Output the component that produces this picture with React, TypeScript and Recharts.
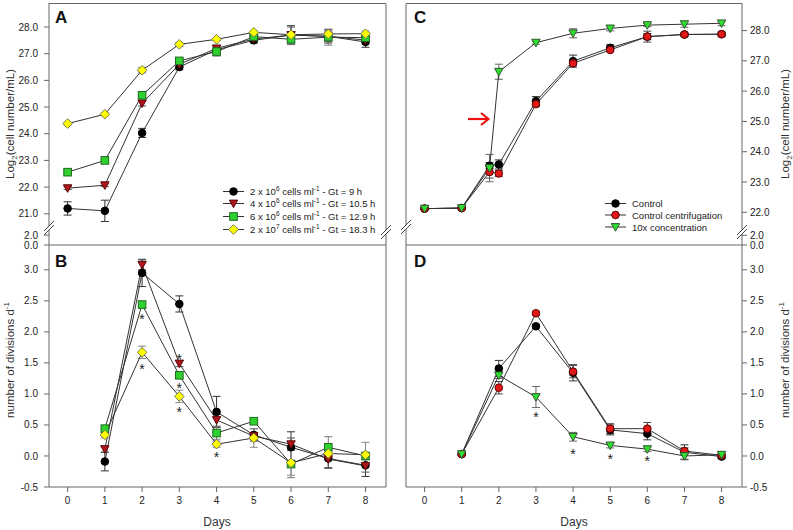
import React from "react";
import { ComposedChart, Line, Scatter, XAxis, YAxis, ErrorBar } from "recharts";

const FONT = "'Liberation Sans', Arial, sans-serif";

// ---- panel A / B : inoculum density ----
const DAYS_AB = [0, 1, 2, 3, 4, 5, 6, 7, 8];
const A_2E6 = [21.2, 21.11, 24.03, 26.5, 27.15, 27.5, 27.7, 27.65, 27.44];
const A_2E6_ERR = [0.25, 0.4, 0.17, 0.1, 0.15, 0.1, 0.35, 0.25, 0.2];
const A_4E6 = [21.96, 22.07, 25.14, 26.6, 27.2, 27.55, 27.7, 27.65, 27.51];
const A_4E6_ERR = [0.05, 0.05, 0.1, 0.1, 0.1, 0.05, 0.3, 0.2, 0.15];
const A_6E6 = [22.56, 23.0, 25.44, 26.73, 27.08, 27.64, 27.54, 27.62, 27.6];
const A_6E6_ERR = [0.05, 0.05, 0.1, 0.05, 0.17, 0.05, 0.2, 0.3, 0.05];
const A_2E7 = [24.38, 24.73, 26.38, 27.35, 27.54, 27.8, 27.71, 27.74, 27.75];
const A_2E7_ERR = [0.05, 0.05, 0.1, 0.08, 0.05, 0.05, 0.1, 0.1, 0.1];

const B_2E6 = [null, -0.09, 2.95, 2.45, 0.71, 0.34, 0.14, -0.04, -0.15];
const B_2E6_ERR = [null, 0.15, 0.22, 0.13, 0.25, 0.1, 0.25, 0.15, 0.18];
const B_4E6 = [null, 0.11, 3.08, 1.49, 0.58, 0.32, 0.19, -0.05, -0.16];
const B_4E6_ERR = [null, 0.05, 0.08, 0.05, 0.1, 0.05, 0.1, 0.15, 0.1];
const B_6E6 = [null, 0.44, 2.44, 1.3, 0.37, 0.56, -0.13, 0.14, 0.0];
const B_6E6_ERR = [null, 0.05, 0.05, 0.05, 0.1, 0.05, 0.22, 0.17, 0.05];
const B_2E7 = [null, 0.34, 1.67, 0.96, 0.19, 0.29, -0.11, 0.04, 0.02];
const B_2E7_ERR = [null, 0.05, 0.1, 0.1, 0.05, 0.15, 0.2, 0.05, 0.2];
const B_STARS = [
  { day: 2, v: 2.25 }, { day: 2, v: 1.45 },
  { day: 3, v: 1.61 }, { day: 3, v: 1.15 }, { day: 3, v: 0.75 },
  { day: 4, v: 0.03 },
];

// ---- panel C / D : concentration experiment ----
const DAYS_C = [0, 1, 1.75, 2, 3, 4, 5, 6, 7, 8];
const C_CTRL = [22.12, 22.14, 23.54, 23.58, 25.67, 26.99, 27.43, 27.8, 27.87, 27.88];
const C_CTRL_ERR = [0.03, 0.03, 0.1, 0.15, 0.15, 0.2, 0.1, 0.1, 0.05, 0.05];
const C_CENT = [22.12, 22.14, 23.33, 23.28, 25.57, 26.92, 27.36, 27.8, 27.87, 27.88];
const C_CENT_ERR = [0.03, 0.03, 0.2, 0.1, 0.08, 0.08, 0.05, 0.18, 0.05, 0.08];
const C_CONC = [22.12, 22.14, 23.46, 26.64, 27.6, 27.91, 28.07, 28.18, 28.21, 28.24];
const C_CONC_ERR = [0.03, 0.03, 0.45, 0.25, 0.05, 0.15, 0.08, 0.05, 0.1, 0.08];

const DAYS_D = [1, 2, 3, 4, 5, 6, 7, 8];
const D_CTRL = [0.03, 1.41, 2.09, 1.34, 0.42, 0.36, 0.06, -0.01];
const D_CTRL_ERR = [0.02, 0.13, 0.03, 0.13, 0.08, 0.1, 0.12, 0.03];
const D_CENT = [0.03, 1.1, 2.3, 1.36, 0.44, 0.44, 0.08, 0.01];
const D_CENT_ERR = [0.02, 0.1, 0.03, 0.1, 0.08, 0.1, 0.05, 0.03];
const D_CONC = [0.03, 1.3, 0.95, 0.31, 0.17, 0.11, 0.0, 0.02];
const D_CONC_ERR = [0.02, 0.05, 0.17, 0.07, 0.04, 0.04, 0.05, 0.03];
const D_STARS = [{ day: 3, v: 0.68 }, { day: 4, v: 0.08 }, { day: 5, v: 0.0 }, { day: 6, v: -0.04 }];

const DAY_TICKS = [0, 1, 2, 3, 4, 5, 6, 7, 8];
const X_DOMAIN = [-0.5, 8.55];
const RATE_TICKS = [-0.5, 0, 0.5, 1, 1.5, 2, 2.5, 3];
const A_TICKS = [19.83, 20.2, 21, 22, 23, 24, 25, 26, 27, 28];
const C_TICKS = [20.92, 21.24, 22, 23, 24, 25, 26, 27, 28];

const tableA = DAYS_AB.map((day, i) => ({
  day, s1: A_2E6[i], s1e: A_2E6_ERR[i], s2: A_4E6[i], s2e: A_4E6_ERR[i],
  s3: A_6E6[i], s3e: A_6E6_ERR[i], s4: A_2E7[i], s4e: A_2E7_ERR[i],
}));
const tableB = DAYS_AB.map((day, i) => ({
  day, s1: B_2E6[i], s1e: B_2E6_ERR[i], s2: B_4E6[i], s2e: B_4E6_ERR[i],
  s3: B_6E6[i], s3e: B_6E6_ERR[i], s4: B_2E7[i], s4e: B_2E7_ERR[i],
})).filter((r) => r.s1 != null);
const tableC = DAYS_C.map((day, i) => ({
  day, c1: C_CTRL[i], c1e: C_CTRL_ERR[i], c2: C_CENT[i], c2e: C_CENT_ERR[i], c3: C_CONC[i], c3e: C_CONC_ERR[i],
}));
const tableD = DAYS_D.map((day, i) => ({
  day, c1: D_CTRL[i], c1e: D_CTRL_ERR[i], c2: D_CENT[i], c2e: D_CENT_ERR[i], c3: D_CONC[i], c3e: D_CONC_ERR[i],
}));

type Kind = "circle" | "tri" | "square" | "diamond";

const Marker = ({ kind, cx, cy, fill, stroke }: { kind: Kind; cx: number; cy: number; fill: string; stroke: string }) => {
  if (kind === "circle") return <circle cx={cx} cy={cy} r={3.8} fill={fill} stroke={stroke} strokeWidth={1} />;
  if (kind === "square") return <rect x={cx - 3.8} y={cy - 3.8} width={7.6} height={7.6} fill={fill} stroke={stroke} strokeWidth={1} />;
  if (kind === "diamond")
    return <polygon points={`${cx},${cy - 4.8} ${cx + 4.8},${cy} ${cx},${cy + 4.8} ${cx - 4.8},${cy}`} fill={fill} stroke={stroke} strokeWidth={1} />;
  return <polygon points={`${cx - 4.2},${cy - 3.4} ${cx + 4.2},${cy - 3.4} ${cx},${cy + 4.2}`} fill={fill} stroke={stroke} strokeWidth={1} />;
};

const dotOf = (kind: Kind, fill: string, stroke: string) => (p: any) => {
  if (p.cx == null || p.cy == null || p.value == null) return <g key={`d-${p.index}`} />;
  return <Marker key={`d-${p.index}`} kind={kind} cx={p.cx} cy={p.cy} fill={fill} stroke={stroke} />;
};

const Star = (p: any) => (
  <text x={p.cx} y={p.cy + 8} textAnchor="middle" fontSize={14} fontFamily={FONT} fill="#222">*</text>
);

const SERIES_AB = [
  { key: "s1", kind: "circle" as Kind, fill: "#000000", stroke: "#000000", err: "#333" },
  { key: "s2", kind: "tri" as Kind, fill: "#b0141a", stroke: "#5a0a0a", err: "#555" },
  { key: "s3", kind: "square" as Kind, fill: "#2ed12e", stroke: "#1f6b1f", err: "#777" },
  { key: "s4", kind: "diamond" as Kind, fill: "#ffff00", stroke: "#7a7a50", err: "#888" },
];
const SERIES_CD = [
  { key: "c1", kind: "circle" as Kind, fill: "#000000", stroke: "#000000", err: "#333" },
  { key: "c2", kind: "circle" as Kind, fill: "#e01818", stroke: "#600000", err: "#444" },
  { key: "c3", kind: "tri" as Kind, fill: "#2ee02e", stroke: "#335533", err: "#666" },
];

const tickStyle = { fontSize: 10, fill: "#222", fontFamily: FONT };
const AXIS = "#666";

const renderLines = (series: typeof SERIES_AB) =>
  series.map((s) => (
    <Line key={s.key} dataKey={s.key} stroke="#333" strokeWidth={1} isAnimationActive={false}
      dot={dotOf(s.kind, s.fill, s.stroke)} activeDot={false} connectNulls>
      <ErrorBar dataKey={`${s.key}e`} width={4} stroke={s.err} strokeWidth={1} direction="y" />
    </Line>
  ));

const breakFmtA = (v: number) => (v < 20.5 ? (v < 20 ? "0.0" : "2.0") : v.toFixed(1));
const breakFmtC = (v: number) => (v < 21.5 ? (v < 21 ? "0.0" : "2.0") : v.toFixed(1));

const BreakMark = ({ x, y }: { x: number; y: number }) => (
  <g>
    <polygon points={`${x - 5},${y + 4} ${x + 5},${y - 6} ${x + 5},${y - 2} ${x - 5},${y + 8}`} fill="#fff" />
    <line x1={x - 5} y1={y + 4} x2={x + 5} y2={y - 6} stroke="#444" strokeWidth={1} />
    <line x1={x - 5} y1={y + 8} x2={x + 5} y2={y - 2} stroke="#444" strokeWidth={1} />
  </g>
);

const LegendRow = ({ x, y, kind, fill, stroke, children }: any) => (
  <g>
    <line x1={x} y1={y} x2={x + 21} y2={y} stroke="#333" strokeWidth={1} />
    <Marker kind={kind} cx={x + 10.5} cy={y} fill={fill} stroke={stroke} />
    <text x={x + 27} y={y + 3.5} fontSize={9.5} fontFamily={FONT} fill="#222">{children}</text>
  </g>
);

const Sup = ({ children }: { children: React.ReactNode }) => (
  <>
    <tspan dy={-4} fontSize={6.5}>{children}</tspan>
    <tspan dy={4}> </tspan>
  </>
);

const LEGEND_A = [
  { mant: "2", exp: "6", gt: "9 h" },
  { mant: "4", exp: "6", gt: "10.5 h" },
  { mant: "6", exp: "6", gt: "12.9 h" },
  { mant: "2", exp: "7", gt: "18.3 h" },
];
const LEGEND_C = ["Control", "Control centrifugation", "10x concentration"];

export default function App() {
  return (
    <div style={{ position: "absolute", left: 0, top: 0, width: 793, height: 530, background: "#fff", fontFamily: FONT }}>
      {/* A */}
      <div style={{ position: "absolute", left: 0, top: 0 }}>
        <ComposedChart width={400} height={250} data={tableA} margin={{ top: 3, right: 14, bottom: 5, left: 0 }}>
          <XAxis type="number" dataKey="day" domain={X_DOMAIN} allowDataOverflow hide />
          <YAxis type="number" domain={[19.83, 28.9]} ticks={A_TICKS} interval={0} allowDataOverflow width={49}
            tickFormatter={breakFmtA} tick={tickStyle} tickSize={5} tickMargin={6} stroke={AXIS} />
          {renderLines(SERIES_AB)}
        </ComposedChart>
      </div>
      {/* B */}
      <div style={{ position: "absolute", left: 0, top: 240 }}>
        <ComposedChart width={400} height={290} data={tableB} margin={{ top: 5, right: 14, bottom: 0, left: 0 }}>
          <XAxis type="number" dataKey="day" domain={X_DOMAIN} ticks={DAY_TICKS} interval={0} allowDataOverflow height={43}
            tick={tickStyle} tickSize={5} tickMargin={5} stroke={AXIS} />
          <YAxis type="number" domain={[-0.5, 3.4]} ticks={RATE_TICKS} interval={0} allowDataOverflow width={49}
            tickFormatter={(v: number) => v.toFixed(1)} tick={tickStyle} tickSize={5} tickMargin={6} stroke={AXIS} />
          {renderLines(SERIES_AB)}
          <Scatter data={B_STARS} dataKey="v" shape={Star} isAnimationActive={false} />
        </ComposedChart>
      </div>
      {/* C */}
      <div style={{ position: "absolute", left: 392, top: 0 }}>
        <ComposedChart width={401} height={250} data={tableC} margin={{ top: 3, right: 0, bottom: 5, left: 14 }}>
          <XAxis type="number" dataKey="day" domain={X_DOMAIN} allowDataOverflow hide />
          <YAxis type="number" orientation="right" domain={[20.92, 28.91]} ticks={C_TICKS} interval={0} allowDataOverflow width={51}
            tickFormatter={breakFmtC} tick={tickStyle} tickSize={5} tickMargin={3} stroke={AXIS} />
          {renderLines(SERIES_CD)}
        </ComposedChart>
      </div>
      {/* D */}
      <div style={{ position: "absolute", left: 392, top: 240 }}>
        <ComposedChart width={401} height={290} data={tableD} margin={{ top: 5, right: 0, bottom: 0, left: 14 }}>
          <XAxis type="number" dataKey="day" domain={X_DOMAIN} ticks={DAY_TICKS} interval={0} allowDataOverflow height={43}
            tick={tickStyle} tickSize={5} tickMargin={5} stroke={AXIS} />
          <YAxis type="number" orientation="right" domain={[-0.5, 3.4]} ticks={RATE_TICKS} interval={0} allowDataOverflow width={51}
            tickFormatter={(v: number) => v.toFixed(1)} tick={tickStyle} tickSize={5} tickMargin={3} stroke={AXIS} />
          {renderLines(SERIES_CD)}
          <Scatter data={D_STARS} dataKey="v" shape={Star} isAnimationActive={false} />
        </ComposedChart>
      </div>

      <svg width={793} height={530} style={{ position: "absolute", left: 0, top: 0, pointerEvents: "none" }}>
        {/* frames */}
        <g stroke={AXIS} strokeWidth={1} fill="none">
          <path d="M49,3.5 H386 V487" />
          <line x1={49} y1={245} x2={386} y2={245} />
          <path d="M742,3.5 H406 V487" />
          <line x1={406} y1={245} x2={742} y2={245} />
        </g>
        <BreakMark x={49} y={227} />
        <BreakMark x={386} y={231} />
        <BreakMark x={406} y={226} />
        <BreakMark x={742} y={231} />

        {/* panel letters */}
        <g fontFamily={FONT} fontWeight="bold" fontSize={17} fill="#111">
          <text x={55} y={23}>A</text>
          <text x={55} y={267}>B</text>
          <text x={414} y={23}>C</text>
          <text x={414} y={267}>D</text>
        </g>

        {/* axis titles */}
        <g fontFamily={FONT} fontSize={11.5} fill="#333" textAnchor="middle">
          <text transform="translate(14,124) rotate(-90)">
            Log<tspan dy={3} fontSize={8}>2</tspan><tspan dy={-3}>(cell number/mL)</tspan>
          </text>
          <text transform="translate(789,124) rotate(-90)">
            Log<tspan dy={3} fontSize={8}>2</tspan><tspan dy={-3}>(cell number/mL)</tspan>
          </text>
          <text transform="translate(14,360) rotate(-90)">
            number of divisions d<tspan dy={-5} fontSize={8}>-1</tspan>
          </text>
          <text transform="translate(789,360) rotate(-90)">
            number of divisions d<tspan dy={-5} fontSize={8}>-1</tspan>
          </text>
          <text x={217} y={526} fontSize={12}>Days</text>
          <text x={574} y={526} fontSize={12}>Days</text>
        </g>

        {/* legend A */}
        {LEGEND_A.map((l, i) => (
          <LegendRow key={i} x={223} y={[191.5, 203.5, 216.5, 229.5][i]} kind={SERIES_AB[i].kind} fill={SERIES_AB[i].fill} stroke={SERIES_AB[i].stroke}>
            {l.mant} x 10<Sup>{l.exp}</Sup>cells ml<Sup>-1</Sup>- Gt = {l.gt}
          </LegendRow>
        ))}
        {/* legend C */}
        {LEGEND_C.map((l, i) => (
          <LegendRow key={i} x={605} y={[203.5, 215, 227][i]} kind={SERIES_CD[i].kind} fill={SERIES_CD[i].fill} stroke={SERIES_CD[i].stroke}>
            {l}
          </LegendRow>
        ))}

        {/* concentration arrow */}
        <g stroke="#ee1111" strokeWidth={2.2} fill="none">
          <line x1={468} y1={119} x2={488} y2={119} />
          <path d="M481,113 L488.5,119 L481,125" />
        </g>
      </svg>
    </div>
  );
}
